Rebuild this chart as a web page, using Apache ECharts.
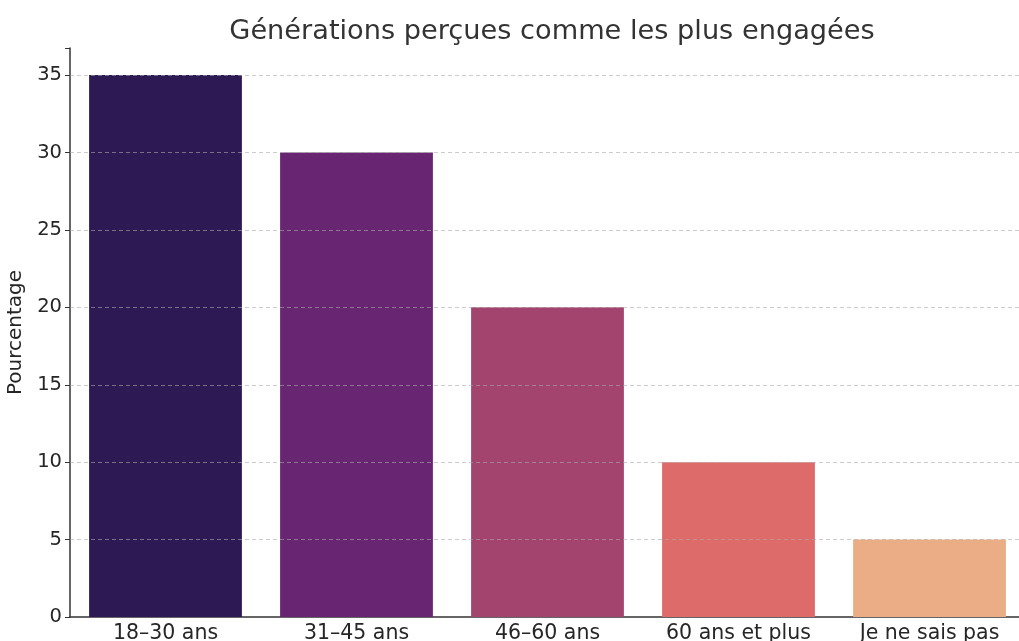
<!DOCTYPE html>
<html>
<head>
<meta charset="utf-8">
<script src="https://cdn.jsdelivr.net/npm/echarts@6/dist/echarts.min.js"></script>
<style>
  html, body { margin: 0; padding: 0; background: #fff; }
  #chart { width: 1019px; height: 641px; }
</style>
</head>
<body>
<div id="chart"></div>
<script>
var categories = ['18–30 ans', '31–45 ans', '46–60 ans', '60 ans et plus', 'Je ne sais pas'];
var values = [35, 30, 20, 10, 5];
var barColors = ['#2d1a54', '#682571', '#a3446f', '#dc6b6a', '#ebad86'];
var yTicks = [0, 5, 10, 15, 20, 25, 30, 35];

var myChart = echarts.init(document.getElementById('chart'));

// grid lines only at the real ticks (no line at the padded max), drawn over the bars
var gridLines = yTicks.slice(1).map(function (v) { return { yAxis: v }; });

var option = {
  animation: false,
  title: {
    text: 'Générations perçues comme les plus engagées',
    left: 547,
    top: 13,
    textAlign: 'center',
    textStyle: { fontFamily: 'DejaVu Sans', fontSize: 27.2, fontWeight: 'normal', color: '#333' }
  },
  grid: { left: 70, width: 955, top: 48, bottom: 24, containLabel: false, outerBoundsMode: 'none' },
  xAxis: {
    type: 'category',
    data: categories,
    axisLine: { lineStyle: { color: '#333', width: 1.5 } },
    axisTick: { alignWithLabel: true, length: 5, lineStyle: { color: '#333' } },
    axisLabel: { fontFamily: 'DejaVu Sans', fontSize: 20.5, color: '#262626', margin: 6, hideOverlap: false }
  },
  yAxis: {
    type: 'value',
    min: 0,
    max: 36.75,
    interval: 5,
    name: 'Pourcentage',
    nameLocation: 'middle',
    nameGap: 40,
    nameTextStyle: { fontFamily: 'DejaVu Sans', fontSize: 20, color: '#262626' },
    axisLine: { show: true, lineStyle: { color: '#333', width: 1.5 } },
    axisTick: { show: true, length: 5, lineStyle: { color: '#333' } },
    axisLabel: {
      fontFamily: 'DejaVu Sans', fontSize: 19.5, color: '#262626', margin: 8,
      formatter: function (v) { return yTicks.indexOf(v) >= 0 ? String(v) : ''; }
    },
    splitLine: { show: false }
  },
  series: [{
    type: 'bar',
    barWidth: '80%',
    data: values.map(function (v, i) {
      return { value: v, itemStyle: { color: barColors[i] } };
    }),
    markLine: {
      silent: true,
      symbol: 'none',
      label: { show: false },
      lineStyle: { color: 'rgba(170,170,170,0.6)', type: [4, 3], width: 1 },
      data: gridLines
    }
  }]
};

myChart.setOption(option);
</script>
</body>
</html>
